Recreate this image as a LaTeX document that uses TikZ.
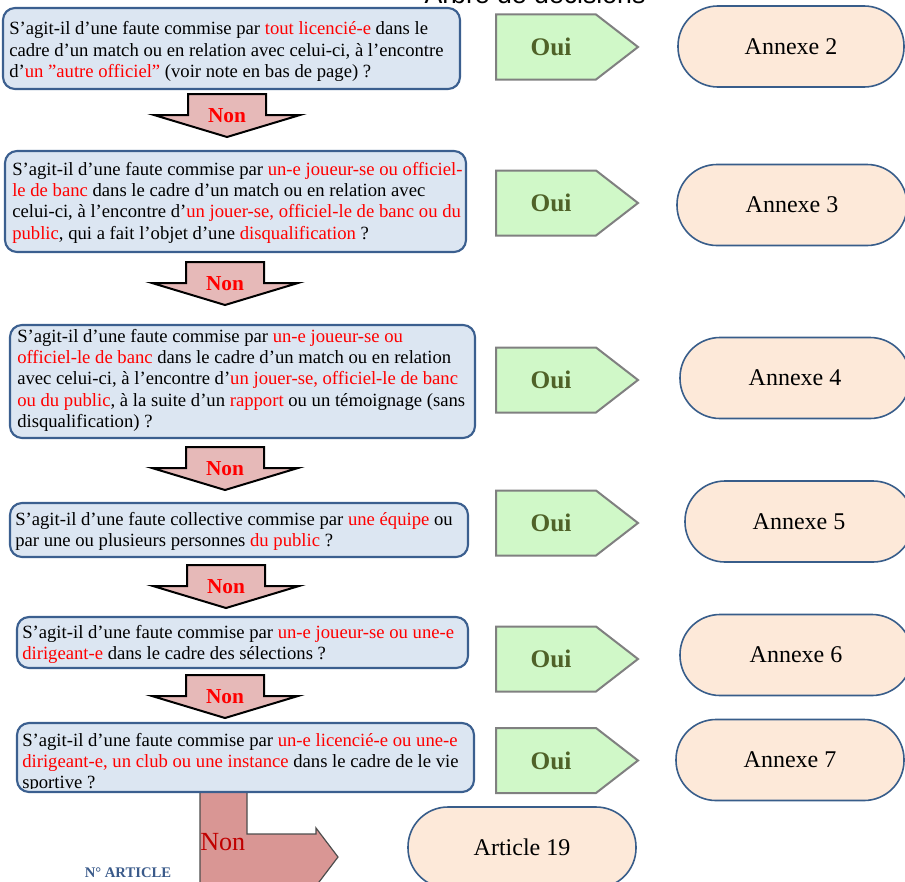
\documentclass[tikz,border=0pt]{standalone}
\usepackage{fontspec}
\setmainfont{Liberation Serif}
\newfontfamily\titlefont{Liberation Sans}
\definecolor{qfill}{HTML}{DCE6F2}
\definecolor{qdraw}{HTML}{3B5F8F}
\definecolor{ouifill}{HTML}{D0F8C8}
\definecolor{ouidraw}{HTML}{808080}
\definecolor{ouitxt}{HTML}{4F6228}
\definecolor{annfill}{HTML}{FDE9D9}
\definecolor{anndraw}{HTML}{385D8A}
\definecolor{nonfill}{HTML}{E6B9B8}
\definecolor{bentfill}{HTML}{D99694}
\definecolor{bentdraw}{HTML}{4D4D4D}
\definecolor{bentred}{HTML}{C00000}
\definecolor{artblue}{HTML}{3A5A8A}
\newlength\pxu
\setlength\pxu{0.75pt}
\newcommand\rouge[1]{\textcolor{red}{#1}}
\begin{document}
\begin{tikzpicture}[x=0.75pt,y=-0.75pt,
  qbox/.style={draw=qdraw, fill=qfill, line width=1.6pt, rounded corners=9pt, inner sep=0pt, outer sep=0pt},
  qtext/.style={inner sep=0pt, anchor=base west, font=\fontsize{14}{16.1}\selectfont},
  ouishape/.style={draw=ouidraw, fill=ouifill, line width=1.5pt, line join=miter},
  ouitext/.style={font=\bfseries\fontsize{19}{22}\selectfont, text=ouitxt, inner sep=0pt},
  annbox/.style={draw=anndraw, fill=annfill, line width=1.2pt, rounded corners=30pt, minimum height=81\pxu, inner sep=0pt, outer sep=0pt, font=\fontsize{18}{21}\selectfont},
  nonshape/.style={draw=black, fill=nonfill, line width=1.5pt, line join=miter},
  nontext/.style={font=\bfseries\fontsize{16}{19}\selectfont, text=red, inner sep=0pt},
  bentshape/.style={draw=bentdraw, fill=bentfill, line width=0.9pt, line join=miter}]
\useasboundingbox (0,0) rectangle (905,881);
\clip (0,0) rectangle (905,881);

% title (cut off at top)
\node[font=\titlefont\fontsize{20}{24}\selectfont, anchor=base, inner sep=0pt] (title) at (535,4) {Arbre de décisions};

% bent "Non" arrow
\draw[bentshape] (200,788) -- (247,788) -- (247,834) -- (316,834) -- (316,828) -- (338,857) -- (316,886) -- (316,884) -- (200,884) -- cycle;
\node[font=\fontsize{19.6}{22}\selectfont, text=bentred, anchor=base west, inner sep=0pt] (nonlast) at (200,850.7) {Non};

% question boxes
\node[qbox, minimum width=457\pxu, minimum height=81\pxu] (q1) at (231.5,48.5) {};
\node[qbox, minimum width=461\pxu, minimum height=101\pxu] (q2) at (235.5,201.5) {};
\node[qbox, minimum width=465\pxu, minimum height=113\pxu] (q3) at (242.5,381.5) {};
\node[qbox, minimum width=458\pxu, minimum height=54\pxu] (q4) at (239,530) {};
\node[qbox, minimum width=451\pxu, minimum height=51\pxu] (q5) at (242.5,642.5) {};
\node[qbox, minimum width=457\pxu, minimum height=69\pxu] (q6) at (245.5,757.5) {};

\node[qtext] (t1) at (9,35) {\begin{tabular}[t]{@{}l@{}}
S’agit-il d’une faute commise par \rouge{tout licencié-e} dans le\\
cadre d’un match ou en relation avec celui-ci, à l’encontre\\
d’\rouge{un ”autre officiel”} (voir note en bas de page) ?
\end{tabular}};
\node[qtext] (t2) at (12,175) {\begin{tabular}[t]{@{}l@{}}
S’agit-il d’une faute commise par \rouge{un-e joueur-se ou officiel-}\\
\rouge{le de banc} dans le cadre d’un match ou en relation avec\\
celui-ci, à l’encontre d’\rouge{un jouer-se, officiel-le de banc ou du}\\
\rouge{public}, qui a fait l’objet d’une \rouge{disqualification} ?
\end{tabular}};
\node[qtext] (t3) at (17,342) {\begin{tabular}[t]{@{}l@{}}
S’agit-il d’une faute commise par \rouge{un-e joueur-se ou}\\
\rouge{officiel-le de banc} dans le cadre d’un match ou en relation\\
avec celui-ci, à l’encontre d’\rouge{un jouer-se, officiel-le de banc}\\
\rouge{ou du public}, à la suite d’un \rouge{rapport} ou un témoignage (sans\\
disqualification) ?
\end{tabular}};
\node[qtext] (t4) at (15,525) {\begin{tabular}[t]{@{}l@{}}
S’agit-il d’une faute collective commise par \rouge{une équipe} ou\\
par une ou plusieurs personnes \rouge{du public} ?
\end{tabular}};
\node[qtext] (t5) at (22,638) {\begin{tabular}[t]{@{}l@{}}
S’agit-il d’une faute commise par \rouge{un-e joueur-se ou une-e}\\
\rouge{dirigeant-e} dans le cadre des sélections ?
\end{tabular}};
\begin{scope}
\path[clip, rounded corners=6pt] ([shift={(0.8pt,2.4pt)}]q6.south west) rectangle ([shift={(-0.8pt,-0.8pt)}]q6.north east);
\node[qtext] (t6) at (22,746) {\begin{tabular}[t]{@{}l@{}}
S’agit-il d’une faute commise par \rouge{un-e licencié-e ou une-e}\\
\rouge{dirigeant-e, un club ou une instance} dans le cadre de le vie\\
sportive ?
\end{tabular}};
\end{scope}

% Oui arrows
\foreach \y/\i in {47/1,203/2,380/3,523/4,659/5,760.5/6} {
  \draw[ouishape] (496,\y-32.5) -- (596,\y-32.5) -- (638,\y) -- (596,\y+32.5) -- (496,\y+32.5) -- cycle;
  \node[ouitext] (oui\i) at (551,\y) {Oui};
}

% Non arrows
\foreach \cx/\ly/\i in {227/116/1, 225/284/2, 225/469/3, 226/587/4, 225/697/5} {
  \draw[nonshape] (\cx-39,\ly-22) -- (\cx+39,\ly-22) -- (\cx+39,\ly-1) -- (\cx+73,\ly-1) -- (\cx,\ly+21) -- (\cx-73,\ly-1) -- (\cx-39,\ly-1) -- cycle;
  \node[nontext] (non\i) at (\cx,\ly) {Non};
}

% Annexes
\node[annbox, minimum width=226\pxu] (an2) at (791,46.5) {Annexe 2};
\node[annbox, minimum width=230\pxu] (an3) at (792,205) {Annexe 3};
\node[annbox, minimum width=230\pxu] (an4) at (795,378) {Annexe 4};
\node[annbox, minimum width=228\pxu] (an5) at (799,521.5) {Annexe 5};
\node[annbox, minimum width=232\pxu] (an6) at (796,655) {Annexe 6};
\node[annbox, minimum width=228\pxu] (an7) at (790,760) {Annexe 7};
\node[annbox, minimum width=228\pxu] (art) at (522,847.5) {Article 19};

\node[font=\bfseries\fontsize{11}{13}\selectfont, text=artblue, inner sep=0pt] (nart) at (128,873) {N° ARTICLE};
\end{tikzpicture}
\end{document}
